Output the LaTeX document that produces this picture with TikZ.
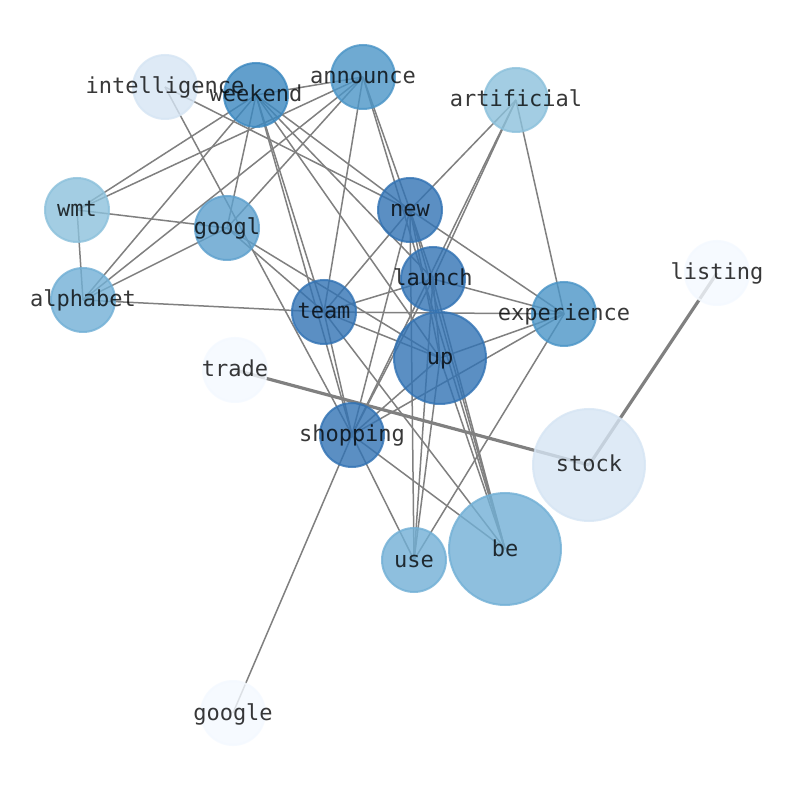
\documentclass[tikz,border=0pt]{standalone}
\usepackage{fontspec}
\newfontfamily\lblfont{DejaVu Sans Mono}
\pgfdeclarelayer{bglayer}
\pgfdeclarelayer{edgelayer}
\pgfdeclarelayer{textlayer}
\pgfsetlayers{bglayer,edgelayer,main,textlayer}
\definecolor{cA}{RGB}{50,115,180}
\definecolor{cB}{RGB}{59,136,192}
\definecolor{cC}{RGB}{75,149,199}
\definecolor{cD}{RGB}{94,161,206}
\definecolor{cE}{RGB}{114,176,214}
\definecolor{cF}{RGB}{140,193,220}
\definecolor{cG}{RGB}{214,229,244}
\definecolor{cH}{RGB}{244,249,255}
\definecolor{edgegray}{RGB}{128,128,128}
\tikzset{
  vtx/.style={circle, inner sep=0pt, minimum size=64pt, line width=2pt,
    fill opacity=0.8, draw opacity=0.8, fill=#1, draw=#1},
  bigvtx/.style={minimum size=92pt},
  hugevtx/.style={minimum size=112pt},
  lbl/.style={font=\lblfont\fontsize{22}{26}\selectfont, text=black,
    text opacity=0.78, inner sep=0pt, text height=17pt, text depth=3pt},
  lnk/.style={draw=edgegray, line width=1.5pt},
  thicklnk/.style={draw=edgegray, line width=3.2pt}
}
\begin{document}
\begin{tikzpicture}[x=1pt,y=1pt]
\useasboundingbox (0,0) rectangle (794,790);
\begin{pgfonlayer}{bglayer}
\fill[white] (0,0) rectangle (794,790);
\end{pgfonlayer}
% nodes
\node[vtx=cG] (intelligence) at (165,703) {};
\node[vtx=cB] (weekend) at (256,695) {};
\node[vtx=cC] (announce) at (363,713) {};
\node[vtx=cF] (artificial) at (516,690) {};
\node[vtx=cF] (wmt) at (77,580) {};
\node[vtx=cD] (googl) at (227,562) {};
\node[vtx=cA] (new) at (410,580) {};
\node[vtx=cA] (launch) at (433,511) {};
\node[vtx=cH] (listing) at (717,517) {};
\node[vtx=cE] (alphabet) at (83,490) {};
\node[vtx=cA] (team) at (324,478) {};
\node[vtx=cC] (experience) at (564,476) {};
\node[vtx=cA, bigvtx] (up) at (440,432) {};
\node[vtx=cH] (trade) at (235,420) {};
\node[vtx=cA] (shopping) at (352,355) {};
\node[vtx=cG, hugevtx] (stock) at (589,325) {};
\node[vtx=cE] (use) at (414,230) {};
\node[vtx=cE, hugevtx] (be) at (505,241) {};
\node[vtx=cH] (google) at (233,77) {};
% edges
\begin{pgfonlayer}{edgelayer}
\foreach \a/\b in {intelligence/new, intelligence/shopping,
  wmt/weekend, wmt/announce, wmt/googl, wmt/alphabet,
  alphabet/weekend, alphabet/announce, alphabet/googl, alphabet/team,
  googl/weekend, googl/announce, googl/team, googl/up,
  weekend/announce, weekend/team, weekend/shopping, weekend/new, weekend/launch, weekend/up,
  announce/team, announce/new, announce/be,
  artificial/new, artificial/experience, artificial/launch, artificial/shopping,
  new/experience, new/team, new/shopping, new/launch, new/up, new/use, new/be,
  launch/team, launch/experience, launch/shopping, launch/use, launch/be, launch/up,
  team/experience, team/up, team/shopping, team/be,
  up/shopping, up/experience, up/use, up/be,
  shopping/experience, shopping/use, shopping/be, shopping/google,
  use/experience}
  \draw[lnk] (\a.center) -- (\b.center);
\draw[thicklnk] (trade.center) -- (stock.center);
\draw[thicklnk] (listing.center) -- (stock.center);
\end{pgfonlayer}
% labels
\begin{pgfonlayer}{textlayer}
\foreach \n in {intelligence, weekend, announce, artificial, wmt, googl, new, launch,
  listing, alphabet, team, experience, up, trade, shopping, stock, use, be, google}
  \node[lbl] (\n-t) at (\n.center) {\n};
\end{pgfonlayer}
\end{tikzpicture}
\end{document}
